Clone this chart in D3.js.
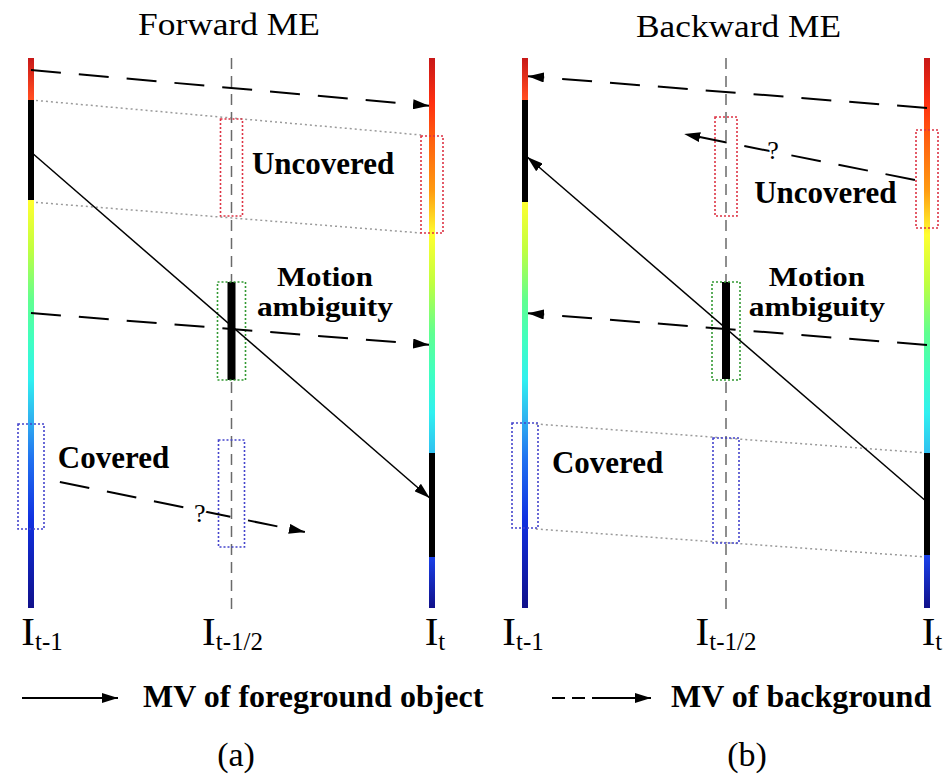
<!DOCTYPE html>
<html>
<head>
<meta charset="utf-8">
<script src="https://cdn.jsdelivr.net/npm/d3@7"></script>
<style>
body { margin: 0; background: #fff; }
svg { display: block; font-family: "Liberation Serif", "Times New Roman", serif; }
</style>
</head>
<body>
<svg id="fig" width="952" height="776"></svg>
<script>
// frame times and their subscripts
const frameTimes = [-1, -0.5, 0];
const frameSubs = ["t-1", "t-1/2", "t"];

// colour along each frame (row from top of the frame, colour)
const prevStops = [[0, "#c81818"], [38, "#ff4a20"], [144, "#ffff30"], [192, "#c0ff40"], [242, "#60ff90"],
  [282, "#40ffc0"], [322, "#30f0f0"], [362, "#30b0f0"], [402, "#2070f0"], [462, "#1030e0"], [550, "#10108a"]];
const curStops = [[0, "#c81818"], [45, "#ff3010"], [82, "#ff6010"], [132, "#ff9a10"], [177, "#ffff30"],
  [225, "#c0ff40"], [275, "#60ff90"], [315, "#40ffc0"], [355, "#30f0f0"], [395, "#30c0f0"], [499, "#1a40e8"], [550, "#10108a"]];

// motion vectors: [time, row] -> [time, row]
const fwdVectors = [
  {from: [-1, 12], to: [0, 48], kind: "bg"},
  {from: [-1, 94], to: [0, 442], kind: "fg"},
  {from: [-1, 255], to: [0, 287], kind: "bg"},
  {from: [-0.928, 424], to: [-0.317, 474], kind: "bg"}
];
const bwdVectors = [
  {from: [0, 50], to: [-1, 18], kind: "bg"},
  {from: [-0.03, 122], to: [-0.604, 76], kind: "bg"},
  {from: [0, 444], to: [-1, 97], kind: "fg"},
  {from: [0, 287], to: [-1, 255], kind: "bg"}
];

// foreground object on each frame: [time, rowStart, rowEnd]
const fwdObject = [[-1, 42, 142], [0, 395, 499], [-0.5, 224, 322]];
const bwdObject = [[-1, 42, 144], [0, 395, 497], [-0.5, 224, 321]];

// dotted region boxes: [time, rowStart, rowEnd, kind]
const fwdBoxes = [[-0.5, 61, 158, "unc"], [0, 78, 175, "unc"], [-0.5, 224, 322, "amb"], [-1, 366, 471, "cov"], [-0.5, 382, 489, "cov"]];
const bwdBoxes = [[-0.5, 59, 158, "unc"], [0, 72, 170, "unc"], [-0.5, 224, 322, "amb"], [-1, 365, 470, "cov"], [-0.5, 380, 485, "cov"]];

// grey dotted guides: [t0, r0, t1, r1]
const fwdGuides = [[-1, 42, -0.027, 77], [-1, 144, -0.027, 175]];
const bwdGuides = [[-0.973, 366, 0, 395], [-0.973, 471, 0, 499]];

// annotations: [time, row, text, anchor]
const fwdNotes = [[-0.449, 116, "Uncovered", "start"], [-0.267, 228, "Motion", "middle"], [-0.267, 258, "ambiguity", "middle"], [-0.933, 410, "Covered", "start"]];
const bwdNotes = [[-0.430, 145, "Uncovered", "start"], [-0.274, 228, "Motion", "middle"], [-0.274, 258, "ambiguity", "middle"], [-0.933, 415, "Covered", "start"]];
const fwdQuery = [[-0.579, 464]];
const bwdQuery = [[-0.383, 101]];

const legendItems = ["MV of foreground object", "MV of background"];

const svg = d3.select("#fig");
const y = d3.scaleLinear().domain([0, 550]).range([58, 608]);
const boxColor = {unc: "#dd3344", amb: "#339933", cov: "#4444cc"};
const boxWidth = {unc: 22, amb: 28, cov: 26};
// the two-line label is set tight, so it gets a smaller size stretched to width
const noteSize = {Motion: 27, ambiguity: 27};
const noteLen = {Motion: 96, ambiguity: 136};

const defs = svg.append("defs");
defs.append("marker")
  .attr("id", "head")
  .attr("viewBox", "0 0 16 10")
  .attr("refX", 16).attr("refY", 5)
  .attr("markerWidth", 16).attr("markerHeight", 10)
  .attr("markerUnits", "userSpaceOnUse")
  .attr("orient", "auto")
  .append("path").attr("d", "M0,0L16,5L0,10Z").attr("fill", "#000");

[["grad-prev", prevStops], ["grad-cur", curStops]].forEach(function(g) {
  let lg = defs.append("linearGradient")
    .attr("id", g[0])
    .attr("gradientUnits", "userSpaceOnUse")
    .attr("x1", 0).attr("x2", 0)
    .attr("y1", y(0)).attr("y2", y(550));
  lg.selectAll("stop").data(g[1]).enter().append("stop")
    .attr("offset", d => d[0] / 550)
    .attr("stop-color", d => d[1]);
});

const panels = [
  {x0: 31, x1: 432, title: "Forward ME", titleX: 138, titleY: 35, titleLen: 182, cap: "(a)", capX: 236, labelDx: [11, 1, 3],
    vectors: fwdVectors, object: fwdObject, boxes: fwdBoxes, guides: fwdGuides, notes: fwdNotes, query: fwdQuery},
  {x0: 525, x1: 927, title: "Backward ME", titleX: 636, titleY: 37, titleLen: 205, cap: "(b)", capX: 747, labelDx: [-2, 0, 5],
    vectors: bwdVectors, object: bwdObject, boxes: bwdBoxes, guides: bwdGuides, notes: bwdNotes, query: bwdQuery}
];

function drawPanel(p) {
  let x = d3.scaleLinear().domain([-1, 0]).range([p.x0, p.x1]);
  let g = svg.append("g");

  g.append("text")
    .attr("x", p.titleX).attr("y", p.titleY)
    .attr("font-size", 32)
    .attr("textLength", p.titleLen)
    .attr("lengthAdjust", "spacingAndGlyphs")
    .text(p.title);

  g.selectAll(".guide").data(p.guides).enter().append("line")
    .attr("x1", d => x(d[0])).attr("y1", d => y(d[1]))
    .attr("x2", d => x(d[2])).attr("y2", d => y(d[3]))
    .attr("stroke", "#9a9a9a").attr("stroke-width", 1.5)
    .attr("stroke-dasharray", "2,3");

  g.append("line")
    .attr("x1", x(-0.5)).attr("x2", x(-0.5))
    .attr("y1", y(0)).attr("y2", y(554))
    .attr("stroke", "#6a6a6a").attr("stroke-width", 1.5)
    .attr("stroke-dasharray", "11,7");

  g.selectAll(".bar").data([[-1, "grad-prev"], [0, "grad-cur"]]).enter().append("rect")
    .attr("x", d => x(d[0]) - 3).attr("width", 6)
    .attr("y", y(0)).attr("height", y(550) - y(0))
    .attr("fill", d => "url(#" + d[1] + ")");

  g.selectAll(".obj").data(p.object).enter().append("rect")
    .attr("x", d => x(d[0]) - (d[0] === -0.5 ? 4 : 3))
    .attr("width", d => d[0] === -0.5 ? 8 : 6)
    .attr("y", d => y(d[1])).attr("height", d => y(d[2]) - y(d[1]))
    .attr("fill", "#000");

  g.selectAll(".box").data(p.boxes).enter().append("rect")
    .attr("x", d => x(d[0]) - boxWidth[d[3]] / 2).attr("width", d => boxWidth[d[3]])
    .attr("y", d => y(d[1])).attr("height", d => y(d[2]) - y(d[1]))
    .attr("fill", "none")
    .attr("stroke", d => boxColor[d[3]]).attr("stroke-width", 1.6)
    .attr("stroke-dasharray", "2,2");

  g.selectAll(".mv").data(p.vectors).enter().append("line")
    .each(function(d) {
      let ax = x(d.from[0]), ay = y(d.from[1]);
      let bx = x(d.to[0]), by = y(d.to[1]);
      let atFrame = d.to[0] === -1 || d.to[0] === 0;
      let len = Math.hypot(bx - ax, by - ay);
      let cut = atFrame ? 3 : 0;
      bx = bx - (bx - ax) / len * cut;
      by = by - (by - ay) / len * cut;
      d3.select(this)
        .attr("x1", ax).attr("y1", ay).attr("x2", bx).attr("y2", by);
    })
    .attr("stroke", "#000")
    .attr("stroke-width", d => d.kind === "fg" ? 1.5 : 2)
    .attr("stroke-dasharray", d => d.kind === "fg" ? null : "30,18")
    .attr("marker-end", "url(#head)");

  g.selectAll(".q").data(p.query).enter().append("text")
    .attr("x", d => x(d[0])).attr("y", d => y(d[1]))
    .attr("text-anchor", "middle")
    .attr("font-size", 26)
    .attr("stroke", "#fff").attr("stroke-width", 4)
    .attr("paint-order", "stroke")
    .text("?");

  g.selectAll(".note").data(p.notes).enter().append("text")
    .attr("x", d => x(d[0])).attr("y", d => y(d[1]))
    .attr("text-anchor", d => d[3])
    .attr("font-size", d => noteSize[d[2]] || 31)
    .attr("font-weight", "bold")
    .attr("textLength", d => noteLen[d[2]] || null)
    .attr("lengthAdjust", d => noteLen[d[2]] ? "spacingAndGlyphs" : null)
    .text(d => d[2]);

  let lab = g.selectAll(".frame").data(frameTimes).enter().append("text")
    .attr("x", (d, i) => x(d) + p.labelDx[i]).attr("y", 645)
    .attr("text-anchor", "middle")
    .attr("font-size", 41);
  lab.append("tspan").text("I");
  lab.append("tspan").attr("font-size", 25).attr("dy", 5).text((d, i) => frameSubs[i]);

  g.append("text")
    .attr("x", p.capX).attr("y", 766)
    .attr("text-anchor", "middle")
    .attr("font-size", 34)
    .text(p.cap);
}

panels.forEach(drawPanel);

// legend
const legend = svg.append("g");
legend.append("line")
  .attr("x1", 22).attr("x2", 118).attr("y1", 698).attr("y2", 698)
  .attr("stroke", "#000").attr("stroke-width", 2)
  .attr("marker-end", "url(#head)");
legend.append("line")
  .attr("x1", 552).attr("x2", 651).attr("y1", 698).attr("y2", 698)
  .attr("stroke", "#000").attr("stroke-width", 2)
  .attr("stroke-dasharray", "13,7,13,7,100")
  .attr("marker-end", "url(#head)");
legend.selectAll(".lt").data(legendItems).enter().append("text")
  .attr("x", (d, i) => i === 0 ? 143 : 671)
  .attr("y", 707)
  .attr("font-size", 32).attr("font-weight", "bold")
  .text(d => d);
</script>
</body>
</html>
